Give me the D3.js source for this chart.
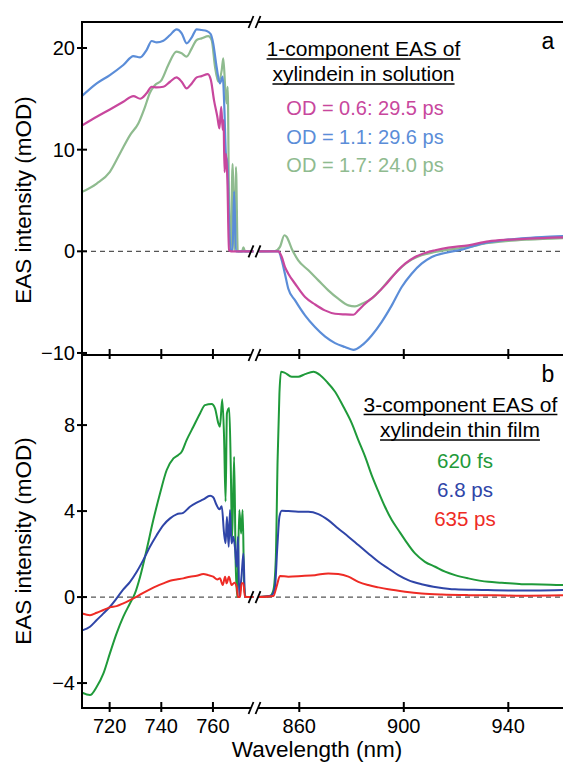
<!DOCTYPE html>
<html>
<head>
<meta charset="utf-8">
<script src="https://cdn.jsdelivr.net/npm/d3@7"></script>
<style>
  body { margin: 0; background: #fff; }
  svg text { font-family: "Liberation Sans", Arial, Helvetica, sans-serif; }
</style>
</head>
<body>
<div id="chart"></div>
<script>
// ---- data: [wavelength nm, EAS mOD] ----
// panel a, solution, left part (< break)
const solOD06Left = [[709.4,12.4],[715,13.24],[720.1,13.96],[725.3,14.71],[729.2,15.27],[731.8,15.01],[734.3,15.54],[736.3,16.19],[738.2,16.13],[740.8,16.19],[743.4,16.68],[745.9,17.11],[747.9,16.68],[749.8,16.03],[751.8,16.52],[753.7,17.11],[755.6,17.24],[758,17.44],[759.2,16.85],[760.4,14.88],[761.7,13.24],[762.5,12.09],[763.2,14.22],[763.8,11.92],[764.1,12.9],[764.5,7.8],[765,9.6],[765.6,7],[766.2,0.1],[767,0],[775.7,0]];
const solOD11Left = [[709.4,15.3],[715,16.52],[720.1,17.34],[725.3,18.33],[729.2,19.21],[731.8,19.08],[734.3,19.8],[736.3,20.69],[738.2,20.56],[740.8,20.72],[743.4,21.28],[745.9,21.84],[747.9,21.45],[749.8,20.46],[751.8,21.05],[753.7,21.84],[755.6,21.77],[757.6,21.68],[759.1,21.38],[760.1,20.46],[761.4,18.16],[762.7,16.52],[763.8,17.18],[764.4,14.22],[765,9.6],[765.6,8.6],[766.2,3],[766.9,0.1],[767.6,0.1],[768.2,5.9],[768.9,0],[775.7,0]];
const solOD17Left = [[709.4,5.85],[715,6.67],[720.1,7.82],[724,9.62],[727.9,11.43],[731.1,12.58],[733.7,14.22],[735.6,15.6],[737.6,16.36],[740.1,16.85],[742.7,18.33],[745.9,19.64],[747.9,19.48],[749.8,19.15],[751.8,19.97],[753.7,20.79],[755.6,20.95],[758.2,21.18],[759.5,20.79],[760.8,18.16],[762.1,16.68],[763.4,17.83],[764,18.98],[764.8,15.86],[765.3,14.55],[765.7,16.19],[766.2,5.35],[766.9,0.1],[767.6,8.6],[768.3,0.1],[768.9,8.3],[769.6,0],[771.3,0],[771.8,0.4],[772.4,0],[775.7,0]];
// panel a, solution, right part (> break)
const solOD06Right = [[844.5,0],[852,0],[853.3,-0.56],[854.5,-1.54],[855.8,-2.2],[858.4,-3.19],[862.2,-4.5],[866,-5.22],[869.8,-5.81],[873.7,-6.14],[877.5,-6.21],[880.7,-6.24],[882.6,-5.81],[885.2,-5.16],[889,-4.34],[892.8,-3.35],[896.6,-2.2],[900.5,-1.22],[904.3,-0.56],[908.1,-0.16],[912,0.1],[917.1,0.36],[924.7,0.59],[932.4,0.98],[940,1.15],[947.7,1.25],[961,1.37]];
const solOD11Right = [[844.5,0],[852,0],[853.3,-0.89],[854.5,-2.2],[855.8,-3.68],[858.4,-4.83],[862.2,-6.3],[866,-7.45],[869.8,-8.37],[873.7,-9.03],[877.5,-9.42],[880.7,-9.69],[883.9,-9.26],[887.7,-8.28],[891.5,-6.96],[895.4,-5.32],[899.2,-3.51],[903,-2.2],[906.8,-1.22],[910.7,-0.56],[915.8,-0.16],[922.2,0.17],[929.8,0.76],[937.5,1.08],[945.1,1.28],[952.8,1.41],[961,1.5]];
const solOD17Right = [[844.5,0],[850.7,0.03],[852.6,0.43],[854.3,1.58],[855.2,1.41],[857.1,0.26],[859.6,-0.89],[863.5,-1.87],[867.3,-2.86],[871.1,-3.84],[874.9,-4.66],[878.8,-5.32],[881.3,-5.42],[883.9,-5.16],[887.7,-4.66],[891.5,-3.68],[895.4,-2.53],[899.2,-1.54],[903,-0.82],[906.8,-0.39],[912,-0.07],[917.1,0.17],[924.7,0.43],[932.4,0.82],[940,1.02],[947.7,1.15],[961,1.3]];

// panel b, thin film
const film620fsLeft = [[709.4,-4.45],[712.4,-4.56],[715,-4.17],[717.6,-3.55],[720.1,-2.62],[722.7,-1.69],[725.3,-0.91],[727.9,-0.29],[729.8,0.17],[731.8,0.95],[734.3,2.19],[736.9,3.58],[739.5,4.82],[742.1,5.91],[744.7,6.45],[746.6,6.61],[747.9,6.76],[749.8,7.3],[752.4,7.92],[755,8.54],[756.9,8.93],[759.5,8.98],[760.8,8.78],[762.1,8.08],[762.7,7.92],[763.6,9.2],[764.3,7.46],[764.9,4.45],[765.4,8.54],[766.3,8.8],[766.9,6.06],[767.4,2.65],[768.2,6.53],[768.8,1.57],[769.4,0],[770.2,4.05],[770.9,2.96],[771.5,4.05],[772.1,0.48],[772.7,0],[775.7,0]];
const film68psLeft = [[709.4,-1.55],[712.4,-1.38],[715,-1.07],[717.6,-0.76],[720.1,-0.45],[722.7,-0.06],[725.3,0.36],[727.9,0.71],[730.5,1.18],[733,1.72],[735.6,2.34],[738.2,2.88],[740.8,3.35],[743.4,3.66],[745.9,3.85],[748.5,3.92],[751.1,4.2],[753.7,4.39],[756.3,4.54],[758.9,4.71],[760.1,4.64],[761.4,4.28],[762.5,4.08],[763.4,4.23],[764.3,2.96],[764.9,2.5],[765.4,3.74],[766.1,2.34],[766.6,4.05],[767.2,2.5],[767.9,2.81],[768.5,2.34],[769.2,1.41],[769.7,2.81],[770.2,0],[771.1,1.02],[771.8,2.03],[772.4,0],[775.7,0]];
const film635psLeft = [[709.4,-0.76],[712.4,-0.84],[715,-0.73],[717.6,-0.6],[720.1,-0.48],[722.7,-0.42],[725.3,-0.29],[727.9,-0.14],[730.5,0.02],[733,0.2],[735.6,0.36],[738.2,0.51],[740.8,0.64],[743.4,0.76],[745.9,0.82],[748.5,0.87],[751.1,0.95],[753.7,0.99],[756.3,1.07],[758.2,1.02],[760.1,0.95],[761.7,0.82],[762.7,0.87],[763.8,0.56],[764.7,0.95],[765.3,0.64],[766.2,0.95],[767.2,0.56],[768.3,0.67],[769.2,0.48],[769.7,0],[770.5,0],[771.1,0.64],[771.8,0.64],[772.4,0],[775.7,0]];
const film620fsRight = [[844.5,0],[848.8,0.05],[850.1,0.33],[851,1.72],[851.7,6.37],[852.4,9.47],[853,10.48],[854.5,10.43],[857.1,10.25],[859.6,10.25],[862.2,10.37],[865.4,10.48],[867.9,10.33],[870.5,10.02],[873.7,9.55],[876.9,8.85],[880.1,8.08],[882.6,7.3],[885.2,6.53],[887.7,5.67],[890.3,4.9],[892.8,4.2],[895.4,3.58],[897.9,3.12],[900.5,2.65],[904.3,2.03],[908.1,1.64],[912,1.41],[915.8,1.18],[919.6,1.02],[924.7,0.87],[932.4,0.71],[937.5,0.67],[945.1,0.6],[952.8,0.59],[961,0.56]];
const film68psRight = [[844.5,0],[849.4,0.08],[850.7,0.48],[851.6,2.34],[852.4,3.74],[853.3,4.02],[855.8,4],[859.6,3.97],[863.5,3.97],[867.3,3.86],[871.1,3.58],[874.9,3.19],[878.8,2.81],[882.6,2.42],[886.4,2.03],[890.3,1.64],[894.1,1.33],[897.9,1.02],[901.7,0.79],[906.8,0.6],[913.2,0.45],[919.6,0.36],[929.8,0.33],[940,0.31],[950.2,0.31],[961,0.33]];
const film635psRight = [[844.5,0],[850.1,0.05],[851.3,0.48],[852.6,0.98],[855.8,0.95],[860.9,0.98],[866,1.02],[871.1,1.1],[874.9,1.07],[878.8,0.95],[882.6,0.71],[886.4,0.56],[890.3,0.45],[894.1,0.36],[900.5,0.25],[906.8,0.17],[914.5,0.12],[924.7,0.09],[934.9,0.08],[945.1,0.06],[961,0.08]];

// ticks and labels
const xTicksLeft = [720, 740, 760];
const xTicksRight = [860, 900, 940];
const yTicksA = [-10, 0, 10, 20];
const yTicksB = [-4, 0, 4, 8];
const legendATitle = ["1-component EAS of", "xylindein in solution"];
const legendAItems = ["OD = 0.6: 29.5 ps", "OD = 1.1: 29.6 ps", "OD = 1.7: 24.0 ps"];
const legendBTitle = ["3-component EAS of", "xylindein thin film"];
const legendBItems = ["620 fs", "6.8 ps", "635 ps"];

const colSol = ["#c8479d", "#5b8dd8", "#8fbb8f"];
const colFilm = ["#1f9a3a", "#2f45a8", "#ee2b25"];

// ---- layout ----
const W = 563, H = 763;
const left = 82, right = 563;
const breakL = 251, breakR = 258;
const topA = 22, midY = 355, botB = 708;

const svg = d3.select("#chart").append("svg")
  .attr("width", W).attr("height", H);

const xL = d3.scaleLinear().domain([709.3, 775.7]).range([left, 253.5]);
const xR = d3.scaleLinear().domain([844.2, 961.2]).range([breakR, right + 0.7]);
const yA = d3.scaleLinear().domain([-10.2, 22.56]).range([midY, topA]);
const yB = d3.scaleLinear().domain([-5.16, 11.26]).range([botB, midY]);

// clip regions
const defs = svg.append("defs");
function addClip(id, x0, x1, y0, y1) {
  defs.append("clipPath").attr("id", id).append("rect")
    .attr("x", x0).attr("y", y0).attr("width", x1 - x0).attr("height", y1 - y0);
}
addClip("cAL", left, 254, topA, midY);
addClip("cAR", breakR, right, topA, midY);
addClip("cBL", left, 254, midY, botB);
addClip("cBR", breakR, right, midY, botB);

function drawLine(data, xs, ys, color, clip, width) {
  const line = d3.line().curve(d3.curveMonotoneX)
    .x(d => xs(d[0])).y(d => ys(d[1]));
  svg.append("path")
    .datum(data)
    .attr("clip-path", `url(#${clip})`)
    .attr("fill", "none")
    .attr("stroke", color)
    .attr("stroke-width", width)
    .attr("stroke-linejoin", "round")
    .attr("d", line);
}

// zero lines (dashed)
function zeroLine(y) {
  [[left, breakL], [breakR, right]].forEach(([a, b]) => {
    svg.append("line")
      .attr("x1", a).attr("x2", b).attr("y1", y).attr("y2", y)
      .attr("stroke", "#555").attr("stroke-width", 1.2)
      .attr("stroke-dasharray", "5,4");
  });
}
zeroLine(yA(0));
zeroLine(yB(0));

// curves: panel a
drawLine(solOD17Left, xL, yA, colSol[2], "cAL", 2.2);
drawLine(solOD11Left, xL, yA, colSol[1], "cAL", 2.2);
drawLine(solOD06Left, xL, yA, colSol[0], "cAL", 2.2);
drawLine(solOD17Right, xR, yA, colSol[2], "cAR", 2.2);
drawLine(solOD11Right, xR, yA, colSol[1], "cAR", 2.2);
drawLine(solOD06Right, xR, yA, colSol[0], "cAR", 2.2);

// curves: panel b
drawLine(film620fsLeft, xL, yB, colFilm[0], "cBL", 2);
drawLine(film68psLeft, xL, yB, colFilm[1], "cBL", 2);
drawLine(film635psLeft, xL, yB, colFilm[2], "cBL", 2);
drawLine(film620fsRight, xR, yB, colFilm[0], "cBR", 2);
drawLine(film68psRight, xR, yB, colFilm[1], "cBR", 2);
drawLine(film635psRight, xR, yB, colFilm[2], "cBR", 2);

// ---- axes ----
const ax = svg.append("g").attr("stroke", "#000").attr("stroke-width", 2).attr("fill", "none");
ax.append("line").attr("x1", left).attr("x2", left).attr("y1", topA - 1).attr("y2", botB + 1);
[topA, midY, botB].forEach(y => {
  ax.append("line").attr("x1", left).attr("x2", breakL).attr("y1", y).attr("y2", y);
  ax.append("line").attr("x1", breakR).attr("x2", right).attr("y1", y).attr("y2", y);
});

// break marks
function breakMarks(y) {
  [breakL, breakR].forEach(x => {
    svg.append("line")
      .attr("x1", x - 2.5).attr("y1", y + 6)
      .attr("x2", x + 2.5).attr("y2", y - 6)
      .attr("stroke", "#000").attr("stroke-width", 1.8);
  });
}
[topA, yA(0), midY, yB(0), botB].forEach(breakMarks);

// x ticks on mid boundary and bottom
[midY, botB].forEach(y => {
  xTicksLeft.forEach(t => {
    ax.append("line").attr("x1", xL(t)).attr("x2", xL(t)).attr("y1", y - 6).attr("y2", y + 4);
  });
  xTicksRight.forEach(t => {
    ax.append("line").attr("x1", xR(t)).attr("x2", xR(t)).attr("y1", y - 6).attr("y2", y + 4);
  });
});

// y ticks
function yTicks(ticks, ys) {
  ticks.forEach(t => {
    ax.append("line").attr("x1", left - 5).attr("x2", left + 5).attr("y1", ys(t)).attr("y2", ys(t));
    svg.append("text")
      .attr("x", left - 7).attr("y", ys(t) + 7)
      .attr("text-anchor", "end")
      .style("font-size", "20px")
      .text(t < 0 ? "\u2212" + Math.abs(t) : t);
  });
}
yTicks(yTicksA, yA);
yTicks(yTicksB, yB);

// x tick labels
xTicksLeft.forEach(t => {
  svg.append("text").attr("x", xL(t)).attr("y", 733)
    .attr("text-anchor", "middle").style("font-size", "20px").text(t);
});
xTicksRight.forEach(t => {
  svg.append("text").attr("x", xR(t)).attr("y", 733)
    .attr("text-anchor", "middle").style("font-size", "20px").text(t);
});

// axis titles
svg.append("text")
  .attr("x", 317).attr("y", 757)
  .attr("text-anchor", "middle").style("font-size", "22.5px")
  .text("Wavelength (nm)");
[200, 541].forEach(cy => {
  svg.append("text")
    .attr("transform", `translate(31,${cy}) rotate(-90)`)
    .attr("text-anchor", "middle").style("font-size", "22.5px")
    .text("EAS intensity (mOD)");
});

// panel letters
svg.append("text").attr("x", 548).attr("y", 49).attr("text-anchor", "middle")
  .style("font-size", "23px").text("a");
svg.append("text").attr("x", 548).attr("y", 382).attr("text-anchor", "middle")
  .style("font-size", "23px").text("b");

// legends
function underlined(txt, cx, y, size) {
  const t = svg.append("text").attr("x", cx).attr("y", y)
    .attr("text-anchor", "middle").style("font-size", size + "px").text(txt);
  const w = t.node().getComputedTextLength();
  svg.append("line")
    .attr("x1", cx - w / 2).attr("x2", cx + w / 2)
    .attr("y1", y + 3).attr("y2", y + 3)
    .attr("stroke", "#000").attr("stroke-width", 1.4);
}
underlined(legendATitle[0], 363.5, 56, 21);
underlined(legendATitle[1], 363.5, 81, 21);
legendAItems.forEach((s, i) => {
  svg.append("text").attr("x", 365).attr("y", 115 + i * 28.5)
    .attr("text-anchor", "middle").style("font-size", "20px")
    .attr("fill", colSol[i]).text(s);
});
underlined(legendBTitle[0], 460.5, 411.5, 21);
underlined(legendBTitle[1], 460, 437, 21);
legendBItems.forEach((s, i) => {
  svg.append("text").attr("x", 465).attr("y", 468 + i * 29)
    .attr("text-anchor", "middle").style("font-size", "20.5px")
    .attr("fill", colFilm[i]).text(s);
});
</script>
</body>
</html>
